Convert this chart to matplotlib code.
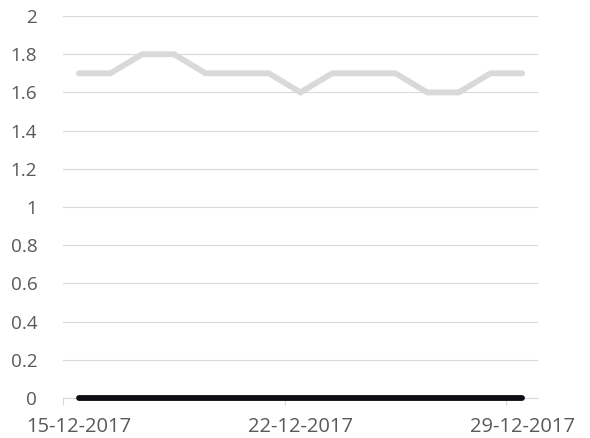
import matplotlib
matplotlib.use("Agg")
import matplotlib.pyplot as plt
import matplotlib.dates as mdates
import numpy as np
import pandas as pd

# dates on the x axis (one point per day)
dates = pd.date_range("2017-12-15", "2017-12-29", freq="D")
# grey series
grey_vals = [1.7, 1.7, 1.8, 1.8, 1.7, 1.7, 1.7, 1.6, 1.7, 1.7, 1.7, 1.6, 1.6, 1.7, 1.7]
# black series, flat at zero
black_vals = [0] * 15
# labelled dates
label_dates = pd.to_datetime(["2017-12-15", "2017-12-22", "2017-12-29"])

plt.rcParams["font.family"] = ["Open Sans", "DejaVu Sans"]
txt = "#595959"
grid = "#d9d9d9"

fig = plt.figure(figsize=(5.9, 4.38), dpi=100)
ax = fig.add_axes([63 / 590, 1 - 398 / 438, 475 / 590, 382 / 438])

ax.plot(dates, grey_vals, color="#d9d9d9", lw=4.2, solid_capstyle="round",
        solid_joinstyle="miter", zorder=3)
ax.plot(dates, black_vals, color="#100c14", lw=4.2, solid_capstyle="round",
        zorder=4, clip_on=False)

half = pd.Timedelta(hours=12)
ax.set_xlim(dates[0] - half, dates[-1] + half)
ax.set_ylim(0, 2)
ax.set_yticks(np.arange(0, 2.01, 0.2))
ax.set_yticklabels(["0", "0.2", "0.4", "0.6", "0.8", "1", "1.2", "1.4", "1.6", "1.8", "2"])

# labels centred on days, tick marks at day boundaries
ax.set_xticks(label_dates)
ax.xaxis.set_major_formatter(mdates.DateFormatter("%d-%m-%Y"))
ax.set_xticks([d - half for d in label_dates], minor=True)
ax.tick_params(axis="x", which="major", length=0, pad=13.5, labelsize=14.5, labelcolor=txt)
ax.tick_params(axis="x", which="minor", length=5, width=0.8, color=grid)
ax.tick_params(axis="y", length=0, pad=18.5, labelsize=13.6, labelcolor=txt)

ax.grid(axis="y", color=grid, lw=0.8, zorder=0)
for s in ["top", "right", "left"]:
    ax.spines[s].set_visible(False)
ax.spines["bottom"].set_color(grid)
ax.spines["bottom"].set_linewidth(0.8)

fig.savefig("out.png", dpi=100)
